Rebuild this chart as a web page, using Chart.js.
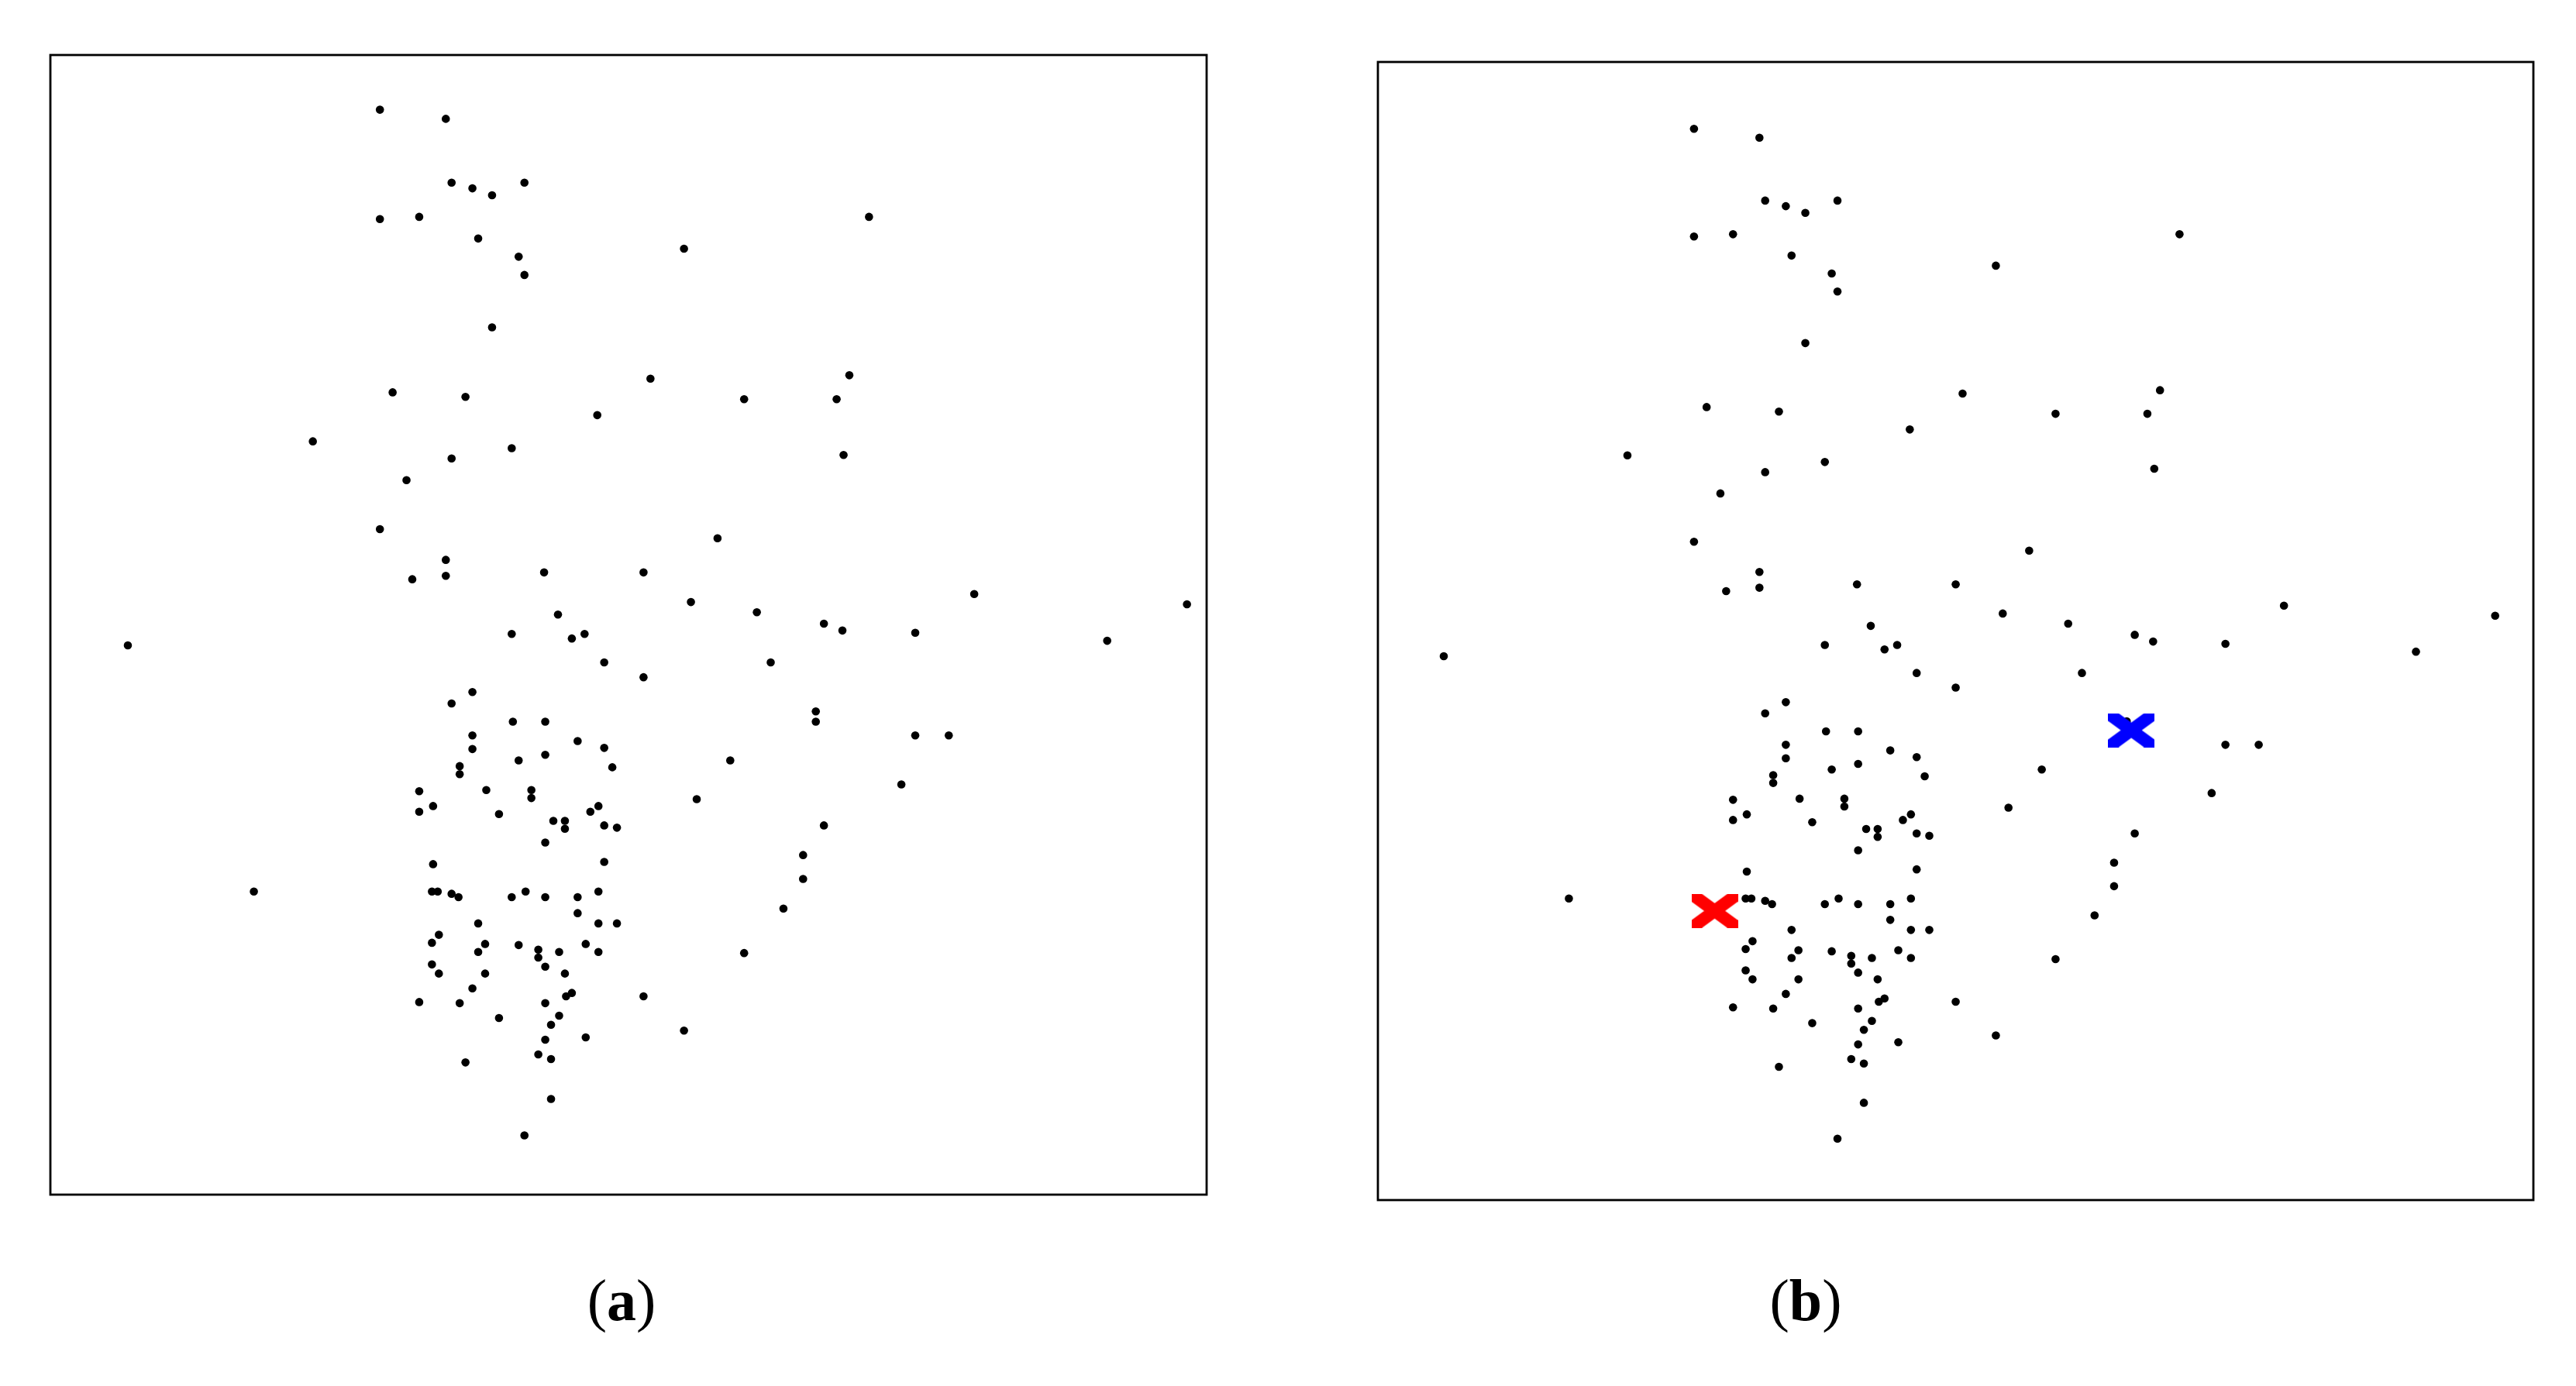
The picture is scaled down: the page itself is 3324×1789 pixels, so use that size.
<!DOCTYPE html>
<html>
<head>
<meta charset="utf-8">
<script src="https://cdn.jsdelivr.net/npm/chart.js@4"></script>
<style>
  html, body { margin: 0; padding: 0; background: #ffffff; }
  body { width: 3324px; height: 1789px; position: relative; overflow: hidden; }
  canvas { position: absolute; }
  .lbl { position: absolute; width: 240px; text-align: center; font-family: "Liberation Serif", "DejaVu Serif", serif;
         font-size: 76px; line-height: 76px; color: #000; white-space: nowrap; }
  .lbl b { font-weight: bold; }
</style>
</head>
<body>
<canvas id="chartA" width="1512" height="1491" style="left:55px;top:61px;width:1512px;height:1491px;"></canvas>
<canvas id="chartB" width="1511" height="1489" style="left:1768px;top:70px;width:1511px;height:1489px;"></canvas>
<div class="lbl" style="left:682px;top:1640px;">(<b>a</b>)</div>
<div class="lbl" style="left:2210px;top:1640px;">(<b>b</b>)</div>
<script>
// ---- data (arbitrary units, 0..100 across panel (a)) ----
const pointX = [
  28.5, 34.2, 34.7, 36.5, 38.2, 41.0, 28.5, 31.9, 37.0, 40.5,
  41.0, 38.2, 29.6, 35.9, 47.3, 22.7, 39.9, 34.7, 30.8, 28.5,
  34.2, 34.2, 31.3, 42.7, 43.9, 70.8, 54.8, 51.9, 69.1, 60.0,
  68.0, 68.6, 57.7, 51.3, 55.4, 61.1, 79.9, 98.3, 66.9, 68.5,
  74.8, 91.4, 62.3, 51.3, 66.2, 66.2, 74.8, 77.7, 58.8, 73.6,
  55.9, 66.9, 65.1, 65.1, 63.4, 60.0, 51.3, 54.8, 6.7, 17.6,
  39.9, 45.1, 46.2, 47.9, 36.5, 34.7, 40.0, 42.8, 36.5, 36.5,
  45.6, 47.9, 40.5, 42.8, 48.6, 35.4, 35.4, 31.9, 37.7, 41.6,
  41.6, 33.1, 31.9, 38.8, 46.7, 47.4, 43.5, 44.5, 44.5, 47.9,
  49.0, 42.8, 33.1, 47.9, 33.0, 33.5, 34.7, 35.3, 39.9, 41.1,
  42.8, 45.6, 47.4, 45.6, 37.0, 47.4, 49.0, 33.6, 33.0, 37.6,
  37.0, 40.5, 42.2, 42.2, 44.0, 46.3, 47.4, 33.0, 33.6, 37.6,
  42.8, 44.5, 36.5, 31.9, 35.4, 42.8, 44.6, 45.1, 38.8, 44.0,
  43.3, 46.3, 42.8, 42.2, 43.3, 35.9, 43.3, 41.0
];
const pointY = [
  95.2, 94.4, 88.8, 88.3, 87.7, 88.8, 85.6, 85.8, 83.9, 82.3,
  80.7, 76.1, 70.4, 70.0, 68.4, 66.1, 65.5, 64.6, 62.7, 58.4,
  55.7, 54.3, 54.0, 54.6, 50.9, 85.8, 83.0, 71.6, 71.9, 69.8,
  69.8, 64.9, 57.6, 54.6, 52.0, 51.1, 52.7, 51.8, 50.1, 49.5,
  49.3, 48.6, 46.7, 45.4, 42.4, 41.5, 40.3, 40.3, 38.1, 36.0,
  34.7, 32.4, 29.8, 27.7, 25.1, 21.2, 17.4, 14.4, 48.2, 26.6,
  49.2, 48.8, 49.2, 46.7, 44.1, 43.1, 41.5, 41.5, 40.3, 39.1,
  39.8, 39.2, 38.1, 38.6, 37.5, 37.6, 36.9, 35.4, 35.5, 35.5,
  34.8, 34.1, 33.6, 33.4, 33.6, 34.1, 32.8, 32.8, 32.1, 32.4,
  32.2, 30.9, 29.0, 29.2, 26.6, 26.6, 26.4, 26.1, 26.1, 26.6,
  26.1, 26.1, 26.6, 24.7, 23.8, 23.8, 23.8, 22.8, 22.1, 22.0,
  21.3, 21.9, 21.5, 20.8, 21.3, 22.0, 21.3, 20.2, 19.4, 19.4,
  20.0, 19.4, 18.1, 16.9, 16.8, 16.8, 17.4, 17.7, 15.5, 15.7,
  14.9, 13.8, 13.6, 12.3, 11.9, 11.6, 8.4, 5.2
];
// cluster centres shown in panel (b)
const centerX = [30.3, 66.6];
const centerY = [25.5, 41.6];
const centerColors = ['#ff0000', '#0000ff'];
const panelLabels = ['a', 'b'];

// ---- helpers ----
function makeCross(color) {
  const w = 60, h = 44;
  const c = document.createElement('canvas');
  c.width = w; c.height = h;
  const g = c.getContext('2d');
  g.beginPath(); g.rect(0, 0, w, h); g.clip();
  g.strokeStyle = color; g.lineWidth = 16; g.lineCap = 'butt';
  g.beginPath();
  g.moveTo(-10, -10 * h / w); g.lineTo(w + 10, h + 10 * h / w);
  g.moveTo(w + 10, -10 * h / w); g.lineTo(-10, h + 10 * h / w);
  g.stroke();
  return c;
}
const crossImages = centerColors.map(makeCross);

const frame = {
  id: 'frame',
  afterDraw(chart) {
    const a = chart.chartArea, ctx = chart.ctx;
    ctx.save();
    ctx.strokeStyle = '#000'; ctx.lineWidth = 2.8;
    ctx.strokeRect(a.left, a.top, a.right - a.left, a.bottom - a.top);
    ctx.restore();
  }
};

const pts = pointX.map((x, i) => ({ x: x, y: pointY[i] }));

function build(id, xr, yr, withCenters) {
  const datasets = [];
  if (withCenters) {
    datasets.push({
      data: centerX.map((x, i) => ({ x: x, y: centerY[i] })),
      pointStyle: ctx => crossImages[ctx.dataIndex],
      pointRadius: 30,
      borderWidth: 0,
      backgroundColor: centerColors,
      clip: false
    });
  }
  datasets.push({
    data: pts,
    pointStyle: 'circle',
    pointRadius: 5.3,
    borderWidth: 0,
    backgroundColor: '#000000',
    clip: false
  });
  return new Chart(document.getElementById(id), {
    type: 'scatter',
    data: { datasets: datasets },
    plugins: [frame],
    options: {
      responsive: false,
      devicePixelRatio: 1,
      animation: false,
      layout: { padding: 10, autoPadding: false },
      plugins: { legend: { display: false }, tooltip: { enabled: false } },
      events: [],
      scales: {
        x: { type: 'linear', display: false, min: xr[0], max: xr[1] },
        y: { type: 'linear', display: false, min: yr[0], max: yr[1] }
      }
    }
  });
}

build('chartA', [0, 100], [0, 100], false);
build('chartB', [0.96, 101.63], [-0.27, 101.15], true);
</script>
</body>
</html>
